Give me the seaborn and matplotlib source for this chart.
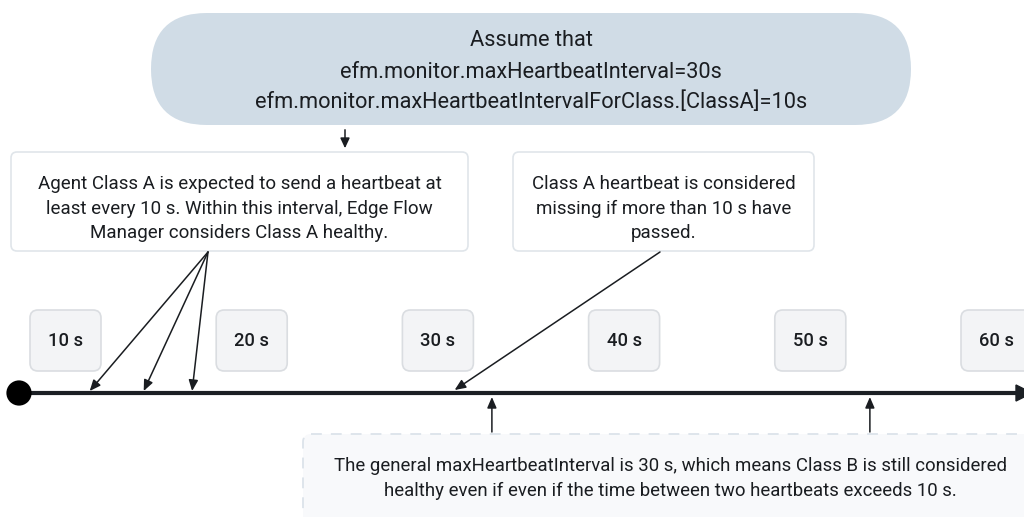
import matplotlib
matplotlib.use("Agg")
import matplotlib.pyplot as plt
from matplotlib.patches import FancyBboxPatch, FancyArrowPatch, Polygon
import seaborn as sns
import pandas as pd

# ---- data ----
times = [10, 20, 30, 40, 50, 60]
time_labels = ["10 s", "20 s", "30 s", "40 s", "50 s", "60 s"]
header_lines = ["Assume that",
                "efm.monitor.maxHeartbeatInterval=30s",
                "efm.monitor.maxHeartbeatIntervalForClass.[ClassA]=10s"]
left_note = ["Agent Class A is expected to send a heartbeat at",
             "least every 10 s. Within this interval, Edge Flow",
             "Manager considers Class A healthy."]
right_note = ["Class A heartbeat is considered",
              "missing if more than 10 s have",
              "passed."]
bottom_note = ["The general maxHeartbeatInterval is 30 s, which means Class B is still considered",
               "healthy even if even if the time between two heartbeats exceeds 10 s."]
classA_heartbeats = [11.3, 14.2, 16.8]   # seconds
classA_missing = [30.9]
classB_marks = [32.9, 53.2]

sns.set_theme(style="white")
plt.rcParams['font.family'] = ['Roboto', 'DejaVu Sans']

TEXT = "#1a1d21"
LINE = "#1b1f24"

fig = plt.figure(figsize=(10.24, 5.17), dpi=100)
ax = fig.add_axes([0, 0, 1, 1])
ax.set_xlim(0, 1024)
ax.set_ylim(517, 0)
ax.axis("off")

X10, STEP = 65.5, 18.62
def tx(t):
    return X10 + (t - 10) * STEP

TL_Y = 393

# header pill
ax.add_patch(FancyBboxPatch((151, 13), 760, 112,
                            boxstyle="round,pad=0,rounding_size=56",
                            fc="#d0dce6", ec="none", zorder=1))
for txt, y in zip(header_lines, [40, 72, 102]):
    ax.text(531, y, txt, ha="center", va="center", fontsize=15.7, color=TEXT, zorder=3)

# arrow pill -> left note
ax.add_patch(FancyArrowPatch((345, 127), (345, 151), arrowstyle="-|>,head_length=0.6,head_width=0.28",
                             mutation_scale=10, lw=1.1, color=TEXT, zorder=3))

# notes
def note_box(x0, x1, lines, ys):
    ax.add_patch(FancyBboxPatch((x0, 152), x1 - x0, 99,
                                boxstyle="round,pad=0,rounding_size=6",
                                fc="white", ec="#e0e5ea", lw=1.2, zorder=1))
    for txt, y in zip(lines, ys):
        ax.text((x0 + x1) / 2, y, txt, ha="center", va="center", fontsize=13.5,
                color=TEXT, zorder=3)

note_box(11, 468, left_note, [184, 209, 233])
note_box(513, 814, right_note, [184, 209, 233])

# time label boxes
for t, lab in zip(times, time_labels):
    cx = tx(t)
    ax.add_patch(FancyBboxPatch((cx - 35.5, 310), 71, 61,
                                boxstyle="round,pad=0,rounding_size=8",
                                fc="#f3f4f6", ec="#dadde1", lw=1.2, zorder=1))
    ax.text(cx, 341.5, lab, ha="center", va="center", fontsize=13.2,
            fontweight="medium", color=TEXT, zorder=3)

# timeline
x_start = 19
ax.plot([x_start, 1018], [TL_Y, TL_Y], color=LINE, lw=3, solid_capstyle="butt", zorder=4)
ax.add_patch(Polygon([[1016, TL_Y - 8], [1032, TL_Y], [1016, TL_Y + 8]],
                     closed=True, fc=LINE, ec=LINE, zorder=4))
origin = pd.DataFrame({"x": [x_start], "y": [TL_Y]})
sns.scatterplot(data=origin, x="x", y="y", s=330, color="black", edgecolor="none",
                ax=ax, zorder=5, legend=False)
ax.set_xlim(0, 1024)
ax.set_ylim(517, 0)

def arrow(p0, p1):
    ax.add_patch(FancyArrowPatch(p0, p1, arrowstyle="-|>,head_length=0.65,head_width=0.28",
                                 mutation_scale=10, lw=1.1, color=TEXT,
                                 shrinkA=0, shrinkB=0, zorder=3))

for t in classA_heartbeats:
    arrow((208, 252), (tx(t), TL_Y - 2))
for t in classA_missing:
    arrow((660, 252), (tx(t), TL_Y - 3))

# bottom dashed box
ax.add_patch(FancyBboxPatch((303, 434), 740, 120,
                            boxstyle="round,pad=0,rounding_size=8",
                            fc="#f8f9fb", ec="#dce3ea", lw=1.3, ls=(0, (6, 5)), zorder=1))
for txt, y in zip(bottom_note, [466, 491]):
    ax.text(670, y, txt, ha="center", va="center", fontsize=13.4, color=TEXT, zorder=3)
for t in classB_marks:
    arrow((tx(t), 432), (tx(t), TL_Y + 4))

fig.savefig("out.png", dpi=100)
